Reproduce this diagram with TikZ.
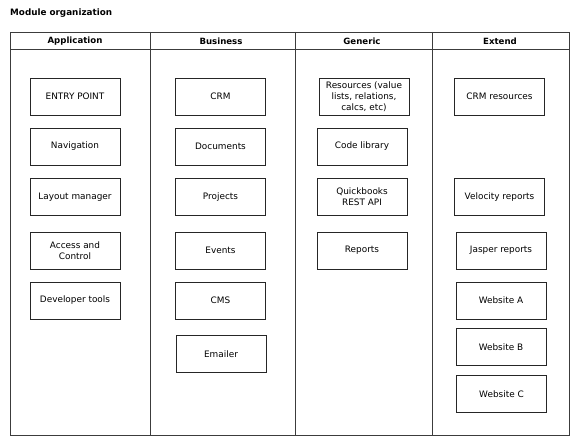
\documentclass[tikz,border=0pt]{standalone}
\usepackage{fontspec}
\setmainfont{DejaVu Sans}
\tikzset{>=latex}
\definecolor{myframe}{RGB}{60,60,60}
\tikzset{
  modbox/.style={draw=black!85,line width=0.7pt,minimum width=90pt,minimum height=37pt,
    align=center,font=\fontsize{8.9}{11}\selectfont,inner sep=1pt},
  colhead/.style={font=\bfseries\fontsize{8.6}{10}\selectfont},
}

\begin{document}
\begin{tikzpicture}[x=1pt,y=-1pt]
  \useasboundingbox (0,0) rectangle (580,443);

  % define to change easily
  \def\ytop{32}
  \def\yhead{49}
  \def\ybot{435}

  % title
  \node[anchor=west,inner sep=0pt,font=\bfseries\fontsize{8.8}{10}\selectfont] (title) at (10,13) {Module organization};

  % frame
  \draw[myframe,line width=0.7pt] (10,\ytop) rectangle (569,\ybot);
  \draw[myframe,line width=0.7pt] (10,\yhead) -- (569,\yhead);
  \draw[myframe,line width=0.7pt]
    (150,\ytop) -- (150,\ybot)
    (295,\ytop) -- (295,\ybot)
    (432,\ytop) -- (432,\ybot);

  % headers
  \node[colhead] (happ) at (75,41) {Application};
  \node[colhead] (hbus) at (221,41) {Business};
  \node[colhead] (hgen) at (362,41) {Generic};
  \node[colhead] (hext) at (500,41) {Extend};

  % application
  \node[modbox] (entry)  at (75,96.5)  {ENTRY POINT};
  \node[modbox] (nav)    at (75,146.5) {Navigation};
  \node[modbox] (layout) at (75,197)   {Layout manager};
  \node[modbox] (access) at (75,250.5) {Access and\\Control};
  \node[modbox] (devtools) at (75,300.5) {Developer tools};

  % business
  \node[modbox] (crm)    at (220.5,96.5)  {CRM};
  \node[modbox] (docs)   at (220.5,146.5) {Documents};
  \node[modbox] (proj)   at (220.5,197)   {Projects};
  \node[modbox] (events) at (220.5,250.5) {Events};
  \node[modbox] (cms)    at (220.5,300.5) {CMS};
  \node[modbox] (emailer) at (221,354)   {Emailer};

  % generic
  \node[modbox,inner sep=0pt] (res) at (364,96.5) {Resources (value\\lists, relations,\\calcs, etc)};
  \node[modbox] (codelib) at (362,146.5) {Code library};
  \node[modbox] (qb)      at (362,197)   {Quickbooks\\REST API};
  \node[modbox] (reports) at (362,250.5) {Reports};

  % extend
  \node[modbox] (crmres)   at (499.5,96.5) {CRM resources};
  \node[modbox] (velocity) at (499.5,197)  {Velocity reports};
  \node[modbox] (jasper)   at (501,250.5)  {Jasper reports};
  \node[modbox] (webA)     at (501,300.5)  {Website A};
  \node[modbox] (webB)     at (501,347)    {Website B};
  \node[modbox] (webC)     at (501.5,394)  {Website C};

\end{tikzpicture}
\end{document}
